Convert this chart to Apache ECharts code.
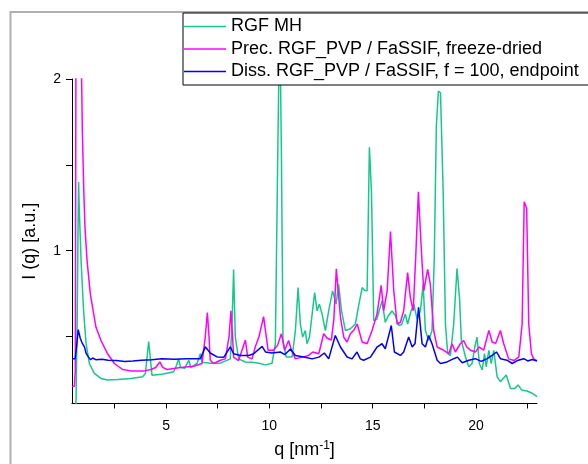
<!DOCTYPE html>
<html>
<head>
<meta charset="utf-8">
<script src="https://cdn.jsdelivr.net/npm/echarts@6/dist/echarts.min.js"></script>
<style>
  html, body { margin: 0; padding: 0; background: #fff; }
  #chart { width: 588px; height: 464px; }
</style>
</head>
<body>
<div id="chart"></div>
<script>
// Scattering curves I(q), q in nm^-1
const seriesNames = [
  'RGF MH',
  'Prec. RGF_PVP / FaSSIF, freeze-dried',
  'Diss. RGF_PVP / FaSSIF, f = 100, endpoint'
];

const qMH = [0.64,0.70,0.74,0.77,0.80,0.89,1.01,1.13,1.29,1.53,1.85,2.17,2.66,3.3,3.87,4.0,4.1,4.16,4.22,4.32,4.8,5.37,5.5,5.61,5.7,5.9,6.1,6.2,6.5,6.66,6.75,7.14,7.63,8.11,8.2,8.27,8.35,8.51,8.84,9.16,9.5,9.81,10.13,10.29,10.4,10.5,10.58,10.66,10.81,11.1,11.26,11.39,11.5,11.61,11.74,11.82,11.94,12.07,12.19,12.31,12.42,12.55,12.71,12.87,13.06,13.23,13.35,13.49,13.68,13.92,14.16,14.32,14.49,14.6,14.73,14.84,14.94,15.05,15.2,15.45,15.61,15.75,15.94,16.1,16.26,16.4,16.58,16.69,16.86,16.99,17.15,17.31,17.44,17.55,17.71,17.87,17.98,18.08,18.18,18.28,18.41,18.52,18.63,18.76,18.92,19.08,19.2,19.29,19.49,19.65,19.81,19.94,20.05,20.16,20.3,20.41,20.49,20.62,20.73,20.86,21.02,21.18,21.46,21.67,21.87,22.04,22.2,22.47,22.71,22.95];
const iMH = [0.08,0.6,1.1,1.40,1.25,0.94,0.65,0.46,0.343,0.285,0.256,0.247,0.25,0.256,0.266,0.285,0.40,0.47,0.40,0.275,0.28,0.295,0.33,0.37,0.32,0.315,0.362,0.32,0.343,0.40,0.35,0.345,0.345,0.37,0.6,0.89,0.5,0.37,0.352,0.35,0.345,0.335,0.345,0.458,1.5,2.4,1.6,0.477,0.381,0.381,0.535,0.785,0.573,0.497,0.535,0.458,0.497,0.631,0.756,0.65,0.689,0.631,0.535,0.65,0.766,0.689,0.804,0.65,0.535,0.545,0.573,0.68,0.785,0.77,0.766,1.603,1.343,0.593,0.6,0.708,0.583,0.62,0.65,0.62,0.564,0.57,0.631,0.573,0.65,0.689,0.6,0.65,0.804,0.535,0.477,0.535,0.958,1.727,1.93,1.92,1.343,0.573,0.40,0.39,0.573,0.896,0.727,0.477,0.381,0.324,0.343,0.439,0.497,0.343,0.305,0.40,0.324,0.42,0.343,0.42,0.266,0.237,0.276,0.197,0.198,0.218,0.189,0.183,0.17,0.15];

const qPrec = [0.46,0.56,0.61,0.64,0.7,0.8,0.88,0.95,1.02,1.08,1.18,1.34,1.61,1.85,2.17,2.5,2.9,3.3,3.95,4.27,4.5,4.7,4.84,5.05,5.7,6.34,6.74,6.9,7.0,7.08,7.14,7.3,7.63,7.87,8.05,8.14,8.22,8.27,8.51,8.84,8.95,9.16,9.32,9.5,9.72,9.94,10.2,10.4,10.58,10.74,10.93,11.07,11.26,11.58,11.9,12.1,12.39,12.63,12.8,13.0,13.12,13.24,13.44,13.6,13.76,13.92,14.1,14.25,14.49,14.73,14.97,15.21,15.41,15.53,15.7,15.86,16.02,16.18,16.34,16.5,16.69,16.82,16.96,17.08,17.21,17.34,17.47,17.66,17.79,17.95,18.12,18.44,18.68,18.84,19.0,19.24,19.4,19.55,19.73,19.97,20.15,20.37,20.62,20.78,20.95,21.18,21.34,21.58,21.83,22.07,22.23,22.33,22.45,22.55,22.68,22.79,22.95];
const iPrec = [0.208,0.21,0.3,2.1,2.6,2.6,2.3,1.7,1.35,1.13,0.94,0.746,0.554,0.478,0.40,0.343,0.308,0.30,0.30,0.308,0.32,0.352,0.32,0.308,0.32,0.327,0.343,0.5,0.64,0.5,0.362,0.343,0.362,0.37,0.5,0.65,0.5,0.38,0.36,0.48,0.38,0.37,0.44,0.5,0.616,0.42,0.42,0.45,0.516,0.42,0.477,0.42,0.37,0.38,0.39,0.41,0.40,0.516,0.49,0.48,0.6,0.895,0.612,0.496,0.468,0.516,0.54,0.573,0.468,0.458,0.535,0.631,0.798,0.65,0.766,1.112,0.766,0.573,0.583,0.65,0.872,0.727,0.65,0.958,1.343,1.035,0.766,0.891,0.804,0.535,0.439,0.42,0.40,0.458,0.41,0.458,0.477,0.44,0.42,0.41,0.44,0.42,0.535,0.468,0.46,0.535,0.458,0.37,0.36,0.381,0.573,1.285,1.247,0.573,0.40,0.37,0.36];

const qDiss = [0.46,0.6,0.68,0.75,0.85,0.95,1.05,1.14,1.25,1.35,1.45,1.52,1.6,1.9,2.2,2.6,3.0,3.4,3.8,4.3,4.8,5.4,6.0,6.5,6.66,6.9,7.14,7.47,7.8,8.11,8.27,8.6,9.0,9.24,9.65,9.81,10.13,10.53,10.75,11.02,11.26,11.66,12.07,12.4,12.66,12.87,13.19,13.44,13.76,14.0,14.24,14.4,14.56,14.89,15.21,15.45,15.61,15.9,16.05,16.34,16.5,16.74,16.91,17.05,17.22,17.39,17.55,17.71,17.87,18.12,18.28,18.6,18.92,19.1,19.33,19.65,19.97,20.25,20.54,20.78,20.99,21.18,21.5,21.75,22.0,22.31,22.5,22.72,22.95];
const iDiss = [0.37,0.37,0.45,0.54,0.49,0.46,0.44,0.40,0.38,0.365,0.375,0.385,0.365,0.368,0.362,0.36,0.355,0.358,0.362,0.365,0.37,0.368,0.37,0.37,0.37,0.44,0.404,0.381,0.38,0.44,0.40,0.39,0.39,0.40,0.443,0.41,0.404,0.41,0.395,0.427,0.39,0.381,0.37,0.38,0.404,0.37,0.506,0.439,0.381,0.37,0.41,0.37,0.362,0.38,0.439,0.458,0.429,0.564,0.41,0.39,0.41,0.497,0.439,0.46,0.67,0.458,0.439,0.506,0.458,0.362,0.343,0.352,0.371,0.38,0.347,0.362,0.371,0.355,0.371,0.39,0.41,0.371,0.362,0.343,0.36,0.371,0.358,0.366,0.358];

const xTicks = [2.5, 5, 7.5, 10, 12.5, 15, 17.5, 20, 22.5];
const xLabels = [5, 10, 15, 20];
const yTicks = [0.5, 1, 1.5, 2];
const yLabels = [1, 2];

const colors = ['#16c98a', '#ff00ff', '#0000ff'];
const FONT = '"Liberation Sans", Arial, sans-serif';

function pairs(xs, ys) { return xs.map((x, k) => [x, ys[k]]); }

const chart = echarts.init(document.getElementById('chart'), null, { renderer: 'canvas' });

chart.setOption({
  animation: false,
  backgroundColor: '#fff',
  textStyle: { fontFamily: FONT },
  grid: { left: 72, top: 79, width: 465, height: 328, containLabel: false },
  graphic: [{
    type: 'rect', z: -10, silent: true,
    shape: { x: 10.5, y: 12, width: 620, height: 520 },
    style: { fill: 'none', stroke: '#b0b0b0', lineWidth: 2 }
  }],
  legend: {
    orient: 'vertical',
    left: 183, top: 13,
    padding: [4.5, 20, 4.5, 1],
    itemGap: 4.5,
    itemWidth: 42, itemHeight: 1.6,
    icon: 'rect',
    backgroundColor: '#fff',
    borderColor: '#000', borderWidth: 1,
    textStyle: { fontFamily: FONT, fontSize: 18, color: '#000' },
    data: seriesNames,
    z: 20
  },
  xAxis: {
    type: 'value', min: 0.45, max: 22.95,
    name: '{a|q [nm}{s|-1}{a|]}',
    nameLocation: 'middle', nameGap: 36,
    nameTextStyle: {
      rich: {
        a: { fontFamily: FONT, fontSize: 18, color: '#000' },
        s: { fontFamily: FONT, fontSize: 12, color: '#000', verticalAlign: 'top', padding: [0, 0, 9, 0] }
      }
    },
    axisLine: { show: true, onZero: false, lineStyle: { color: '#000', width: 1 } },
    axisTick: { show: true, inside: false, length: 5, customValues: xTicks, lineStyle: { color: '#000' } },
    axisLabel: { customValues: xLabels, fontFamily: FONT, fontSize: 14, color: '#000', margin: 16 },
    splitLine: { show: false }
  },
  yAxis: {
    type: 'value', min: 0.11, max: 2,
    name: 'I (q) [a.u.]',
    nameLocation: 'middle', nameGap: 33,
    nameTextStyle: { fontFamily: FONT, fontSize: 18, color: '#000' },
    axisLine: { show: true, onZero: false, lineStyle: { color: '#000', width: 1 } },
    axisTick: { show: true, inside: false, length: 6, customValues: yTicks, lineStyle: { color: '#000' } },
    axisLabel: { customValues: yLabels, fontFamily: FONT, fontSize: 14, color: '#000', margin: 11 },
    splitLine: { show: false }
  },
  series: [
    { name: seriesNames[0], type: 'line', data: pairs(qMH, iMH), showSymbol: false, clip: true,
      color: colors[0], lineStyle: { width: 1.5, color: colors[0] } },
    { name: seriesNames[1], type: 'line', data: pairs(qPrec, iPrec), showSymbol: false, clip: true,
      color: colors[1], lineStyle: { width: 1.5, color: colors[1] } },
    { name: seriesNames[2], type: 'line', data: pairs(qDiss, iDiss), showSymbol: false, clip: true,
      color: colors[2], lineStyle: { width: 1.5, color: colors[2] } }
  ]
});
</script>
</body>
</html>
